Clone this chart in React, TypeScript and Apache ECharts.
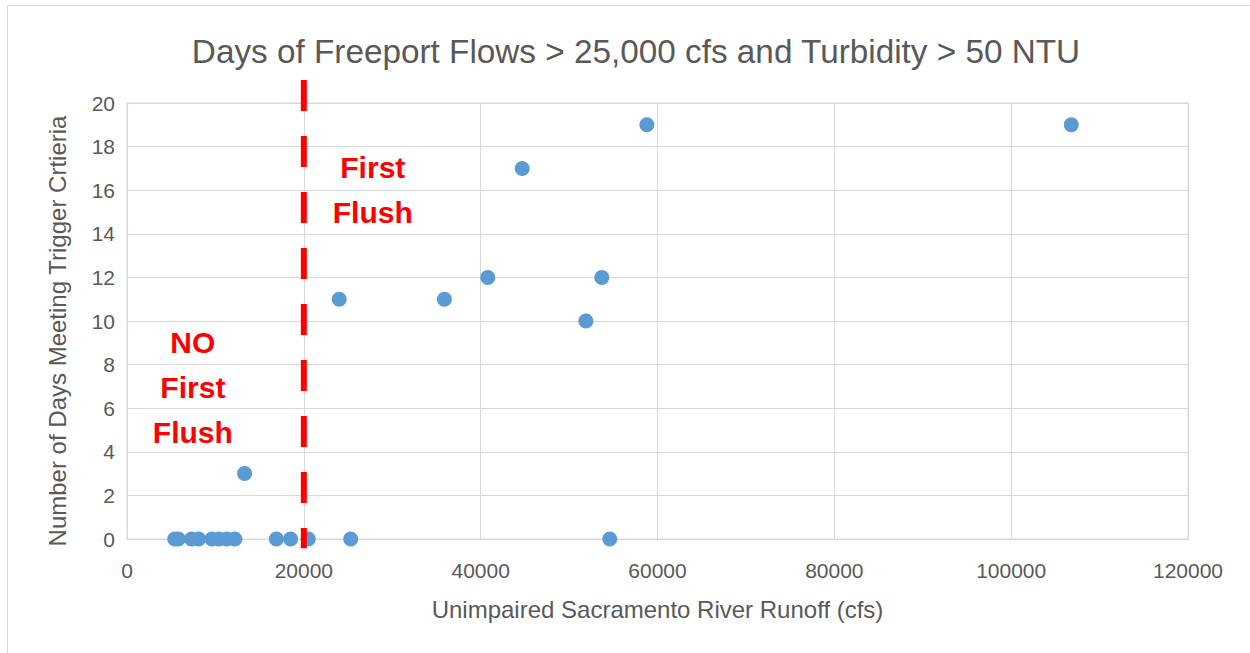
import React, { useEffect, useRef } from "react";
import * as echarts from "echarts";

const TITLE = "Days of Freeport Flows > 25,000 cfs and Turbidity > 50 NTU";
const X_NAME = "Unimpaired Sacramento River Runoff (cfs)";
const Y_NAME = "Number of Days Meeting Trigger Crtieria";

const runoffCfs = [
  5400, 5800, 7300, 8100, 9600, 10400, 11300, 12200, 16900, 18500, 20500, 25300, 54600,
  13300, 24000, 35900, 40800, 44700, 51900, 53700, 58800, 106800,
];
const daysMet = [
  0, 0, 0, 0, 0, 0, 0, 0, 0, 0, 0, 0, 0,
  3, 11, 11, 12, 17, 10, 12, 19, 19,
];

const thresholdX = 20000;
const thresholdSpan = [21.05, -0.42];

const annotations = [
  { text: "First\nFlush", x: 27800, y: 16.0 },
  { text: "NO\nFirst\nFlush", x: 7450, y: 6.95 },
];

export default function App() {
  const ref = useRef<HTMLDivElement>(null);
  useEffect(() => {
    if (!ref.current) return;
    const chart = echarts.init(ref.current, null, { renderer: "svg" });
    const textColor = "#595959";
    const gridColor = "#d9d9d9";
    const font = "'Liberation Sans', Arial, sans-serif";
    chart.setOption({
      animation: false,
      backgroundColor: "#ffffff",
      textStyle: { fontFamily: font },
      title: {
        text: TITLE,
        left: 631,
        textAlign: "center",
        top: 30,
        textStyle: { color: textColor, fontSize: 33.3, fontWeight: "normal", fontFamily: font },
      },
      grid: { left: 127, right: 62, top: 103, bottom: 114, show: true, borderColor: gridColor, borderWidth: 1 },
      xAxis: {
        type: "value",
        min: 0,
        max: 120000,
        interval: 20000,
        name: X_NAME,
        nameLocation: "middle",
        nameGap: 58,
        nameTextStyle: { color: textColor, fontSize: 24, fontFamily: font },
        axisLine: { show: true, lineStyle: { color: gridColor } },
        axisTick: { show: false },
        axisLabel: { color: textColor, fontSize: 21, margin: 21, fontFamily: font, formatter: (v: number) => String(v) },
        splitLine: { show: true, lineStyle: { color: gridColor, width: 1 } },
      },
      yAxis: {
        type: "value",
        min: 0,
        max: 20,
        interval: 2,
        name: Y_NAME,
        nameLocation: "middle",
        nameGap: 58,
        nameTextStyle: { color: textColor, fontSize: 24, fontFamily: font, padding: [0, 20, 0, 0] },
        axisLine: { show: true, lineStyle: { color: gridColor } },
        axisTick: { show: false },
        axisLabel: { color: textColor, fontSize: 21, margin: 12, fontFamily: font },
        splitLine: { show: true, lineStyle: { color: gridColor, width: 1 } },
      },
      series: [
        {
          type: "scatter",
          data: runoffCfs.map((x, i) => [x, daysMet[i]]),
          symbol: "circle",
          symbolSize: 15,
          itemStyle: { color: "#5B9BD5", opacity: 1 },
          z: 2,
        },
        {
          type: "line",
          data: thresholdSpan.map((y) => [thresholdX, y]),
          showSymbol: false,
          symbol: "none",
          clip: false,
          lineStyle: { color: "#FF0000", width: 6, type: [31, 25] },
          z: 3,
          silent: true,
        },
      ],
    });
    const graphics: any[] = [
      {
        type: "rect",
        shape: { x: 7.5, y: 5.5, width: 1400, height: 800 },
        style: { fill: "none", stroke: gridColor, lineWidth: 1 },
        silent: true,
        z: 0,
      },
    ];
    annotations.forEach((a) => {
      const p = chart.convertToPixel({ gridIndex: 0 }, [a.x, a.y]) as number[];
      graphics.push({
        type: "text",
        x: p[0],
        y: p[1],
        style: {
          text: a.text,
          fill: "#FF0000",
          font: `bold 30px ${font}`,
          align: "center",
          verticalAlign: "middle",
          lineHeight: 45,
        },
        z: 10,
      });
    });
    chart.setOption({ graphic: graphics });
    return () => chart.dispose();
  }, []);
  return (
    <div
      ref={ref}
      style={{ position: "fixed", left: 0, top: 0, width: 1250, height: 653 }}
    />
  );
}
